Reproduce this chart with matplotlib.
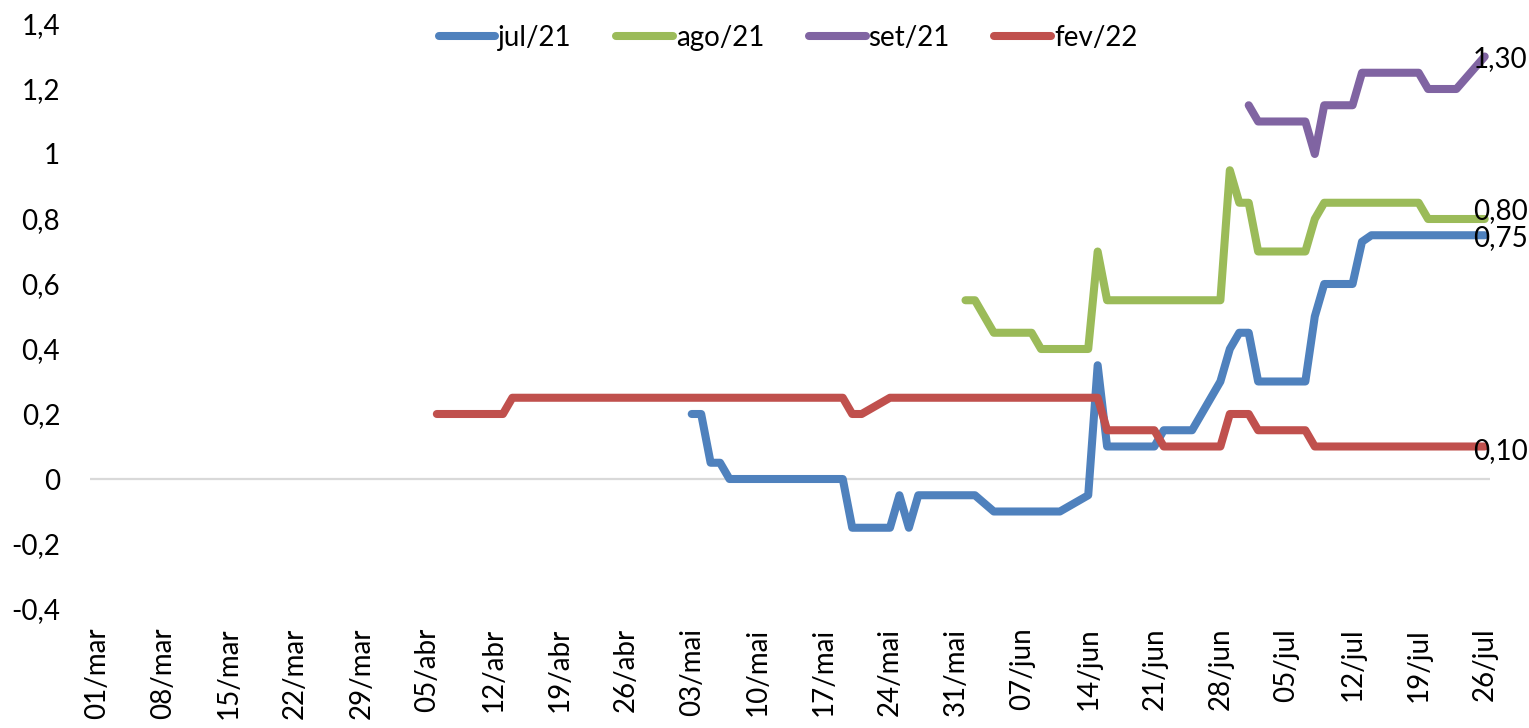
import matplotlib
matplotlib.use("Agg")
import matplotlib.pyplot as plt
import pandas as pd

# series (only the days where the line changes direction are listed)
jul21_dates = ['2021-05-03', '2021-05-04', '2021-05-05', '2021-05-06', '2021-05-07',
               '2021-05-19', '2021-05-20', '2021-05-24', '2021-05-25', '2021-05-26',
               '2021-05-27', '2021-06-02', '2021-06-04', '2021-06-11', '2021-06-14',
               '2021-06-15', '2021-06-16', '2021-06-21', '2021-06-22', '2021-06-25',
               '2021-06-28', '2021-06-29', '2021-06-30', '2021-07-01', '2021-07-02',
               '2021-07-07', '2021-07-08', '2021-07-09', '2021-07-12', '2021-07-13',
               '2021-07-14', '2021-07-26']
jul21_vals = [0.20, 0.20, 0.05, 0.05, 0.00,
              0.00, -0.15, -0.15, -0.05, -0.15,
              -0.05, -0.05, -0.10, -0.10, -0.05,
              0.35, 0.10, 0.10, 0.15, 0.15,
              0.30, 0.40, 0.45, 0.45, 0.30,
              0.30, 0.50, 0.60, 0.60, 0.73,
              0.75, 0.75]

ago21_dates = ['2021-06-01', '2021-06-02', '2021-06-04', '2021-06-08', '2021-06-09',
               '2021-06-14', '2021-06-15', '2021-06-16', '2021-06-28', '2021-06-29',
               '2021-06-30', '2021-07-01', '2021-07-02', '2021-07-07', '2021-07-08',
               '2021-07-09', '2021-07-19', '2021-07-20', '2021-07-26']
ago21_vals = [0.55, 0.55, 0.45, 0.45, 0.40,
              0.40, 0.70, 0.55, 0.55, 0.95,
              0.85, 0.85, 0.70, 0.70, 0.80,
              0.85, 0.85, 0.80, 0.80]

set21_dates = ['2021-07-01', '2021-07-02', '2021-07-07', '2021-07-08', '2021-07-09',
               '2021-07-12', '2021-07-13', '2021-07-19', '2021-07-20', '2021-07-23',
               '2021-07-26']
set21_vals = [1.15, 1.10, 1.10, 1.00, 1.15,
              1.15, 1.25, 1.25, 1.20, 1.20,
              1.30]

fev22_dates = ['2021-04-06', '2021-04-13', '2021-04-14', '2021-05-19', '2021-05-20',
               '2021-05-21', '2021-05-24', '2021-06-15', '2021-06-16', '2021-06-21',
               '2021-06-22', '2021-06-28', '2021-06-29', '2021-07-01', '2021-07-02',
               '2021-07-07', '2021-07-08', '2021-07-26']
fev22_vals = [0.20, 0.20, 0.25, 0.25, 0.20,
              0.20, 0.25, 0.25, 0.15, 0.15,
              0.10, 0.10, 0.20, 0.20, 0.15,
              0.15, 0.10, 0.10]

series_names = ['jul/21', 'ago/21', 'set/21', 'fev/22']
series_dates = [jul21_dates, ago21_dates, set21_dates, fev22_dates]
series_vals = [jul21_vals, ago21_vals, set21_vals, fev22_vals]
colors = ['#4F81BD', '#9BBB59', '#8064A2', '#C0504D']

x_labels = ['01/mar', '08/mar', '15/mar', '22/mar', '29/mar', '05/abr', '12/abr',
            '19/abr', '26/abr', '03/mai', '10/mai', '17/mai', '24/mai', '31/mai',
            '07/jun', '14/jun', '21/jun', '28/jun', '05/jul', '12/jul', '19/jul',
            '26/jul']
y_ticks = [-0.4, -0.2, 0, 0.2, 0.4, 0.6, 0.8, 1, 1.2, 1.4]
y_labels = ['-0,4', '-0,2', '0', '0,2', '0,4', '0,6', '0,8', '1', '1,2', '1,4']

# label nudges (points) for the end values: 1,30 / 0,80 / 0,75 / 0,10
end_label_dy = {'set/21': -1.5, 'ago/21': 5.5, 'jul/21': -2.0, 'fev/22': -3.5}

plt.rcParams['font.family'] = ['Lato', 'DejaVu Sans']
FS = 20

W, H = 1529, 728
fig = plt.figure(figsize=(W / 100, H / 100), dpi=100)
ax = fig.add_axes([90 / W, 1 - 609 / H, 1400 / W, (609 - 24) / H])

for name, d, v, c in zip(series_names, series_dates, series_vals, colors):
    ax.plot(pd.to_datetime(d), v, color=c, lw=5.8, label=name,
            solid_capstyle='round', solid_joinstyle='round', zorder=3)

# value labels at the end of each line
for name, d, v in zip(series_names, series_dates, series_vals):
    ax.annotate(f'{v[-1]:.2f}'.replace('.', ','),
                xy=(pd.to_datetime(d[-1]), v[-1]),
                xytext=(-8.5, end_label_dy[name]), textcoords='offset points',
                ha='left', va='center', fontsize=FS, color='black', zorder=5)

ax.axhline(0, color='#D9D9D9', lw=1.6, zorder=1)

start = pd.Timestamp('2021-03-01')
ax.set_xlim(start - pd.Timedelta(days=0.74), start + pd.Timedelta(days=147.56))
ax.set_ylim(-0.4, 1.4)

tick_dates = pd.date_range('2021-03-01', '2021-07-26', freq='7D')
ax.set_xticks(tick_dates)
ax.set_xticklabels(x_labels, rotation=90, fontsize=FS)
ax.set_yticks(y_ticks)
ax.set_yticklabels(y_labels, fontsize=FS)
ax.tick_params(axis='x', length=0, pad=13.5)
ax.tick_params(axis='y', length=0, pad=21.5)

for s in ax.spines.values():
    s.set_visible(False)

ax.legend(loc='center', bbox_to_anchor=(788 / W, 1 - 38 / H),
          bbox_transform=fig.transFigure, ncol=4, frameon=False,
          fontsize=FS, handlelength=2.05, handletextpad=0.1,
          columnspacing=1.6)

fig.savefig('out.png', dpi=100)
